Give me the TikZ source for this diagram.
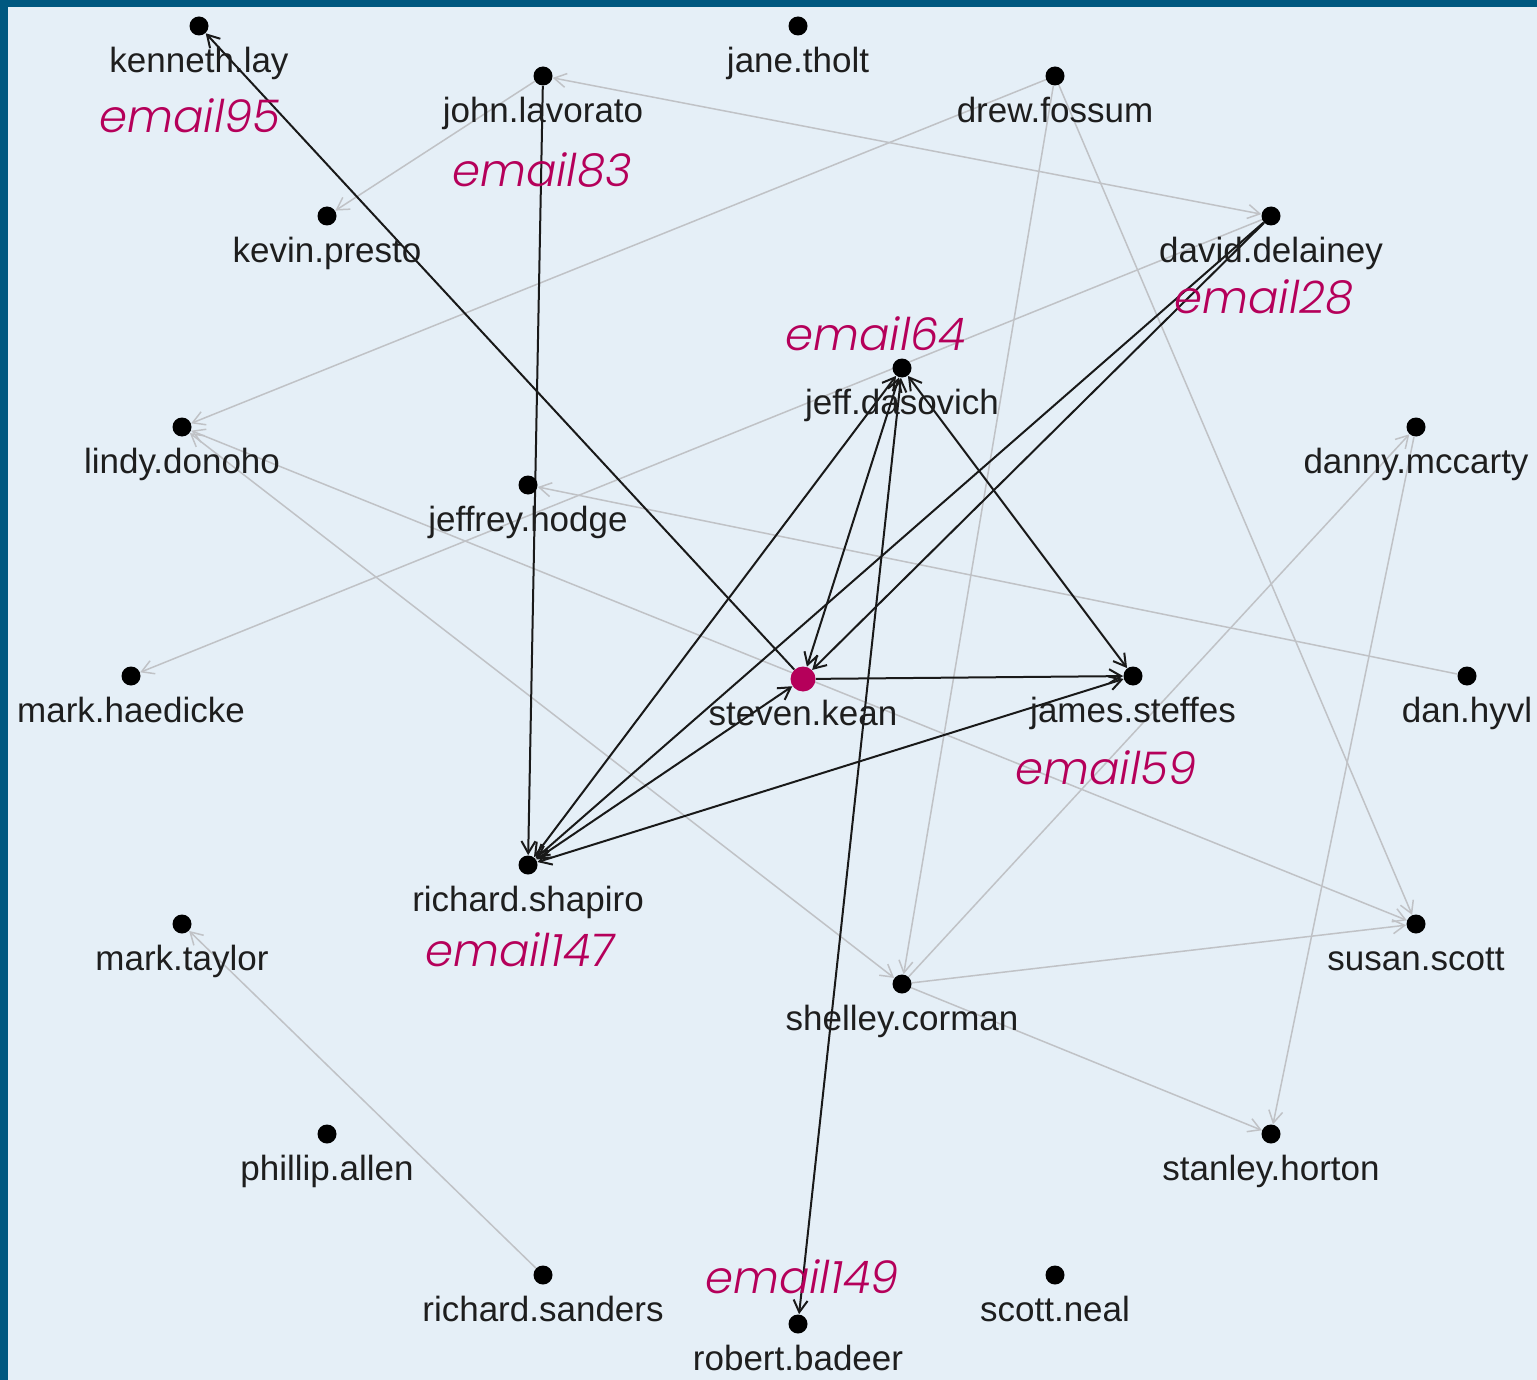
\documentclass[tikz,border=0pt]{standalone}
\usepackage{fontspec}
\usetikzlibrary{arrows.meta,backgrounds}
\setmainfont{Liberation Sans}
\newfontfamily\emailfont{Poppins}[UprightFont=* Light,ItalicFont=* Light Italic]
\definecolor{framecolor}{RGB}{0,88,128}
\definecolor{backcolor}{RGB}{229,239,247}
\definecolor{keancolor}{RGB}{181,0,90}
\definecolor{weakedge}{RGB}{192,194,198}
\definecolor{whocolor}{RGB}{30,30,30}
\tikzset{
  person/.style={circle,fill=black,inner sep=0pt,minimum size=9.5pt},
  who/.style={font=\fontsize{17.5}{18}\selectfont,text=whocolor,inner sep=0pt,
    text height=12.6pt,text depth=3.6pt},
  email/.style={font=\emailfont\itshape\fontsize{22.5}{24}\selectfont,text=keancolor,inner sep=0pt},
  strong/.style={draw=black!90,line width=1pt},
  weak/.style={draw=weakedge,line width=0.75pt}
}

\begin{document}
\begin{tikzpicture}[x=0.5pt,y=-0.5pt,every label/.style={who},label distance=5.5pt,
    >={Straight Barb[length=6pt,width=7pt]}]
  \useasboundingbox (0,0) rectangle (1537,1380);

  % people
  \node[person,label=below:kenneth.lay] (lay) at (199,26) {};
  \node[person,label=below:jane.tholt] (tholt) at (798,26) {};
  \node[person,label=below:john.lavorato] (lavorato) at (543,76) {};
  \node[person,label=below:drew.fossum] (fossum) at (1055,76) {};
  \node[person,label=below:kevin.presto] (presto) at (327,216) {};
  \node[person,label=below:david.delainey] (delainey) at (1271,216) {};
  \node[person,label=below:jeff.dasovich] (dasovich) at (902,368) {};
  \node[person,label=below:lindy.donoho] (donoho) at (182,427) {};
  \node[person,label=below:danny.mccarty] (mccarty) at (1416,427) {};
  \node[person,label=below:jeffrey.hodge] (hodge) at (528,485) {};
  \node[person,label=below:mark.haedicke] (haedicke) at (131,676) {};
  \node[person,fill=keancolor,minimum size=12.5pt,label={[label distance=4pt]below:steven.kean}] (kean) at (803,679) {};
  \node[person,label=below:james.steffes] (steffes) at (1133,676) {};
  \node[person,label=below:dan.hyvl] (hyvl) at (1467,676) {};
  \node[person,label=below:richard.shapiro] (shapiro) at (528,865) {};
  \node[person,label=below:mark.taylor] (taylor) at (182,924) {};
  \node[person,label=below:susan.scott] (scott) at (1416,924) {};
  \node[person,label=below:shelley.corman] (corman) at (902,984) {};
  \node[person,label=below:phillip.allen] (allen) at (327,1134) {};
  \node[person,label=below:stanley.horton] (horton) at (1271,1134) {};
  \node[person,label=below:richard.sanders] (sanders) at (543,1275) {};
  \node[person,label=below:scott.neal] (neal) at (1055,1275) {};
  \node[person,label=below:robert.badeer] (badeer) at (798,1324) {};

  % emails
  \node[email] (e95) at (190,116) {email95};
  \node[email] (e83) at (542,170) {email83};
  \node[email] (e64) at (876,334) {email64};
  \node[email] (e28) at (1264,297) {email28};
  \node[email] (e59) at (1106,768) {email59};
  \node[email] (e147) at (520,950) {email147};
  \node[email] (e149) at (802,1277) {email149};

  \begin{scope}[on background layer]
    \fill[framecolor] (0,0) rectangle (1537,1380);
    \fill[backcolor] (8,7) rectangle (1537,1380);
    % light links
    \draw[weak,<->] (delainey) -- (lavorato);
    \draw[weak,->] (lavorato) -- (presto);
    \draw[weak,->] (fossum) -- (donoho);
    \draw[weak,->] (delainey) -- (haedicke);
    \draw[weak,<->] (donoho) -- (scott);
    \draw[weak,<->] (donoho) -- (corman);
    \draw[weak,->] (corman) -- (scott);
    \draw[weak,->] (corman) -- (horton);
    \draw[weak,->] (fossum) -- (corman);
    \draw[weak,->] (corman) -- (mccarty);
    \draw[weak,->] (mccarty) -- (horton);
    \draw[weak,->] (fossum) -- (scott);
    \draw[weak,->] (sanders) -- (taylor);
    \draw[weak,->] (hyvl) -- (hodge);
    % dark links
    \draw[strong,->] (kean) -- (lay);
    \draw[strong,->] (lavorato) -- (shapiro);
    \draw[strong,<->] (dasovich) -- (shapiro);
    \draw[strong,<->] (dasovich) -- (kean);
    \draw[strong,<->] (dasovich) -- (badeer);
    \draw[strong,<->] (dasovich) -- (steffes);
    \draw[strong,->] (kean) -- (steffes);
    \draw[strong,->] (delainey) -- (kean);
    \draw[strong,->] (delainey) -- (shapiro);
    \draw[strong,<->] (shapiro) -- (kean);
    \draw[strong,<->] (shapiro) -- (steffes);
  \end{scope}
\end{tikzpicture}
\end{document}
